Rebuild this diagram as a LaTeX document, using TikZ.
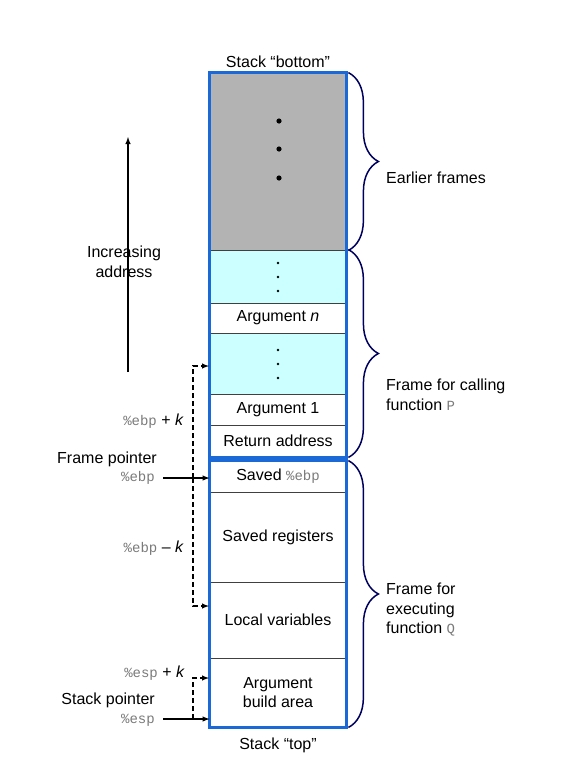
\documentclass[tikz,border=0pt]{standalone}
\usepackage{fontspec}
\setmainfont{Liberation Sans}
\setmonofont{Liberation Mono}
\usetikzlibrary{arrows,decorations.pathreplacing}
\definecolor{frameblue}{HTML}{1A69D6}
\definecolor{bracenavy}{HTML}{00005E}
\definecolor{oldgray}{HTML}{B3B3B3}
\definecolor{argcyan}{HTML}{CCFFFF}
\definecolor{reggray}{HTML}{7A7A7A}
\newcommand{\reg}[1]{{\color{reggray}\fontsize{14}{19.5}\ttfamily #1}}

\begin{document}
\begin{tikzpicture}[x=1pt, y=-1pt, >=latex, font=\fontsize{16}{19.5}\selectfont]
\useasboundingbox (0,0) rectangle (576,782);

\tikzstyle{cell}=[draw=black!75, line width=0.8pt, minimum width=136pt, inner sep=0pt, align=center]
\tikzstyle{txt}=[inner sep=0pt, align=center]
\tikzstyle{frame}=[draw=frameblue, line width=2.6pt]
\tikzstyle{bracket}=[draw=bracenavy, line width=1.5pt, decorate, decoration={brace, amplitude=30pt}]
\tikzstyle{ptr}=[->, line width=1.4pt]
\tikzstyle{offset}=[->, line width=1.4pt, dash pattern=on 5pt off 3pt]

% stack cells, bottom of stack first
\draw (278, 161.5) node[cell, fill=oldgray, minimum height=177pt] (older) {}
      (278, 276.5) node[cell, fill=argcyan, minimum height=53pt] (morea) {}
      (278, 318)   node[cell, minimum height=30pt] (argn) {Argument \textit{n}}
      (278, 363.5) node[cell, fill=argcyan, minimum height=61pt] (moreb) {}
      (278, 409.5) node[cell, minimum height=31pt] (argone) {Argument 1}
      (278, 441)   node[cell, minimum height=32pt] (retaddr) {Return address};
\draw (278, 476.5) node[cell, minimum height=31pt] (savedebp) {Saved \reg{\%ebp}}
      (278, 537)   node[cell, minimum height=90pt] (savedregs) {Saved registers}
      (278, 620)   node[cell, minimum height=76pt] (locals) {Local variables}
      (278, 692.5) node[cell, minimum height=69pt] (argbuild) {Argument\\build area};

\foreach \y in {121, 149, 178} \fill (279, \y) circle (2.6pt);
\foreach \y in {263, 277, 291, 350, 364, 378} \fill (278, \y) circle (1.3pt);

% the two frames
\draw[frame] (older.north west) rectangle (retaddr.south east);
\draw[frame] (savedebp.north west) rectangle (argbuild.south east);

\node[txt] (stackbottom) at (278, 62) {Stack “bottom”};
\node[txt] (stacktop) at (278, 745) {Stack “top”};

% address direction
\node[txt] (incr) at (124, 262) {Increasing\\address};
\coordinate (lowend) at (128, 372);
\coordinate (highend) at (128, 137);
\draw[ptr] (lowend) -- (highend);

% frame pointer
\node[txt, anchor=east] (ebpplus) at (184, 421) {\reg{\%ebp} + \textit{k}};
\node[txt, anchor=east] (fplabel) at (157, 459) {Frame pointer};
\node[txt, anchor=east] (fpreg) at (155, 478) {\reg{\%ebp}};
\node[txt, anchor=east] (ebpminus) at (184, 548) {\reg{\%ebp} – \textit{k}};
\coordinate (fpsrc) at (163, 478);
\coordinate (fpfork) at (193, 478);
\coordinate (fpup) at (209, 366);
\coordinate (fpdown) at (209, 606);
\draw[ptr] (fpsrc) -- (savedebp.west |- fpsrc);
\draw[offset] (fpfork) |- (fpup);
\draw[offset] (fpfork) |- (fpdown);

% stack pointer
\node[txt, anchor=east] (espplus) at (185, 673) {\reg{\%esp} + \textit{k}};
\node[txt, anchor=east] (splabel) at (155, 700) {Stack pointer};
\node[txt, anchor=east] (spreg) at (155, 720) {\reg{\%esp}};
\coordinate (spsrc) at (163, 719);
\coordinate (spfork) at (193, 719);
\coordinate (spup) at (209, 678);
\draw[ptr] (spsrc) -- (argbuild.west |- spsrc);
\draw[offset] (spfork) |- (spup);

% braces
\draw[bracket] ([xshift=2pt]older.north east) -- ([xshift=2pt]older.south east);
\draw[bracket] ([xshift=2pt]morea.north east) -- ([xshift=2pt]retaddr.south east);
\draw[bracket] ([xshift=2pt]savedebp.north east) -- ([xshift=2pt]argbuild.south east);

\node[txt, anchor=west, align=left] (earlier) at (386, 178) {Earlier frames};
\node[txt, anchor=west, align=left] (caller) at (386, 395) {Frame for calling\\function \reg{P}};
\node[txt, anchor=west, align=left] (callee) at (386, 610) {Frame for\\executing\\function \reg{Q}};

\end{tikzpicture}
\end{document}
